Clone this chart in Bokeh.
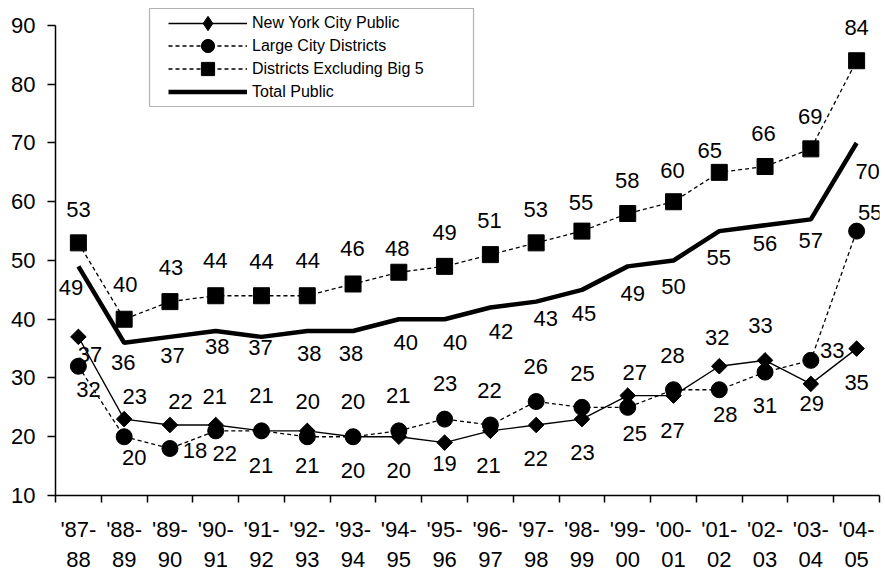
import math
from bokeh.plotting import figure
from bokeh.models import (ColumnDataSource, Range1d, FixedTicker, LabelSet, Legend,
                          LegendItem, BoxAnnotation)
from bokeh.core.properties import value
from bokeh.embed import file_html
from bokeh.resources import INLINE

# ---- data ----
categories = ["'87-88", "'88-89", "'89-90", "'90-91", "'91-92", "'92-93", "'93-94",
              "'94-95", "'95-96", "'96-97", "'97-98", "'98-99", "'99-00", "'00-01",
              "'01-02", "'02-03", "'03-04", "'04-05"]
nyc_public = [37, 23, 22, 22, 21, 21, 20, 20, 19, 21, 22, 23, 27, 27, 32, 33, 29, 35]
large_city = [32, 20, 18, 21, 21, 20, 20, 21, 23, 22, 26, 25, 25, 28, 28, 31, 33, 55]
excl_big5 = [53, 40, 43, 44, 44, 44, 46, 48, 49, 51, 53, 55, 58, 60, 65, 66, 69, 84]
total_public = [49, 36, 37, 38, 37, 38, 38, 40, 40, 42, 43, 45, 49, 50, 55, 56, 57, 70]
y_ticks = [10, 20, 30, 40, 50, 60, 70, 80, 90]
series_names = ["New York City Public", "Large City Districts",
                "Districts Excluding Big 5", "Total Public"]

# ---- label placement (pixels: dx right, dy down) ----
nyc_off = [(11.5, 18), (10.5, -23), (10.5, -23), (9, 29), (-0.5, 34.5), (0, 34.5),
           (0, 34), (0, 34), (0, 21), (-2, 34.5), (-0.5, 34), (0.5, 33), (7, -23.5),
           (-1, 35), (-2, -29), (-4.5, -35), (1, 20), (0, 33.5)]
large_off = [(10, 23.5), (10, 20.5), (25, 2), (-1, -34), (0, -35.5), (0.5, -35.5),
             (0, -35.5), (-0.5, -35.5), (0.5, -35.5), (-1, -34.5), (-0.5, -34.5),
             (0.5, -34), (7, 26.5), (-1, -34), (6, 25), (0, 33.5), (21.5, -10), (13.5, -19)]
excl_off = [(0, -33), (1, -34.5), (1, -34.5), (-0.5, -35), (0, -34), (0.5, -35),
            (-0.5, -35), (-1.5, -24), (0, -34), (-1, -34), (-0.5, -33.5), (-1, -29),
            (-0.5, -33), (-1, -31), (-9.5, -22), (-1.5, -33), (-0.5, -32.5), (0, -33.5)]
total_off = [(-7.5, 21), (-1, 19.5), (2.5, 18.5), (1.5, 16), (-1, 11), (2, 23), (-2, 23),
             (7, 23), (10.5, 23.5), (10.5, 24.5), (9.5, 17), (2, 24), (5, 27), (0, 26.5),
             (-0.5, 26), (0, 18.5), (0, 21), (11, 29)]

xs = list(range(len(categories)))
FONT = "Liberation Sans"

# layout (pixels)
W, H = 885, 574
LEFT, RIGHT, TOP, BOTTOM = 55, 6, 0, 79


def make_src(vals, offs):
    return ColumnDataSource(dict(
        x=xs, y=vals, label=[str(v) for v in vals],
        dx=[o[0] for o in offs], dy=[-o[1] for o in offs]))


src_nyc = make_src(nyc_public, nyc_off)
src_lc = make_src(large_city, large_off)
src_ex = make_src(excl_big5, excl_off)
src_tot = make_src(total_public, total_off)

p = figure(width=W, height=H, output_backend="svg", toolbar_location=None,
           x_range=Range1d(-0.5, len(categories) - 0.5), y_range=Range1d(10, 94.255),
           min_border_left=LEFT, min_border_right=RIGHT, min_border_top=TOP,
           min_border_bottom=BOTTOM)
p.outline_line_color = None
p.xgrid.visible = False
p.ygrid.visible = False
p.background_fill_color = "white"
p.border_fill_color = "white"

# y axis
p.yaxis.ticker = FixedTicker(ticks=y_ticks)
p.yaxis.bounds = (y_ticks[0], y_ticks[-1])
p.yaxis.major_tick_out = 8
p.yaxis.major_tick_in = 0
p.yaxis.minor_tick_out = 0
p.yaxis.minor_tick_in = 0
p.yaxis.axis_line_width = 1.5
p.yaxis.major_tick_line_width = 1.5
p.yaxis.major_label_standoff = 12
p.yaxis.major_label_text_font = FONT
p.yaxis.major_label_text_font_size = "22px"
p.yaxis.major_label_text_color = "black"

# x axis
p.xaxis.ticker = FixedTicker(ticks=xs, minor_ticks=[i - 0.5 for i in range(len(categories) + 1)])
p.xaxis.major_label_overrides = {i: c[:4] + "\n" + c[4:] for i, c in enumerate(categories)}
p.xaxis.major_tick_out = 0
p.xaxis.major_tick_in = 0
p.xaxis.minor_tick_out = 7
p.xaxis.minor_tick_in = 0
p.xaxis.minor_tick_line_color = "black"
p.xaxis.minor_tick_line_width = 1.5
p.xaxis.axis_line_width = 1.5
p.xaxis.major_label_standoff = 14
p.xaxis.major_label_text_font = FONT
p.xaxis.major_label_text_font_size = "22px"
p.xaxis.major_label_text_color = "black"

# series
r_nyc_l = p.line("x", "y", source=src_nyc, line_color="black", line_width=1.3)
r_nyc_m = p.scatter("x", "y", source=src_nyc, marker="square", angle=math.pi / 4,
                    size=11, fill_color="black", line_color="black")
r_lc_l = p.line("x", "y", source=src_lc, line_color="black", line_width=1.3, line_dash="4 3")
r_lc_m = p.scatter("x", "y", source=src_lc, marker="circle", size=16,
                   fill_color="black", line_color="black")
r_ex_l = p.line("x", "y", source=src_ex, line_color="black", line_width=1.3, line_dash="4 3")
r_ex_m = p.scatter("x", "y", source=src_ex, marker="square", size=16,
                   fill_color="black", line_color="black")
r_tot = p.line("x", "y", source=src_tot, line_color="black", line_width=4.5)
# key-only renderer (no drawable point) for the legend's diamond symbol,
# because legends ignore a marker's angle
r_nyc_key = p.scatter(x=[float("nan")], y=[float("nan")], marker="diamond", size=11,
                      fill_color="black", line_color="black")

for src in (src_nyc, src_lc, src_ex, src_tot):
    p.add_layout(LabelSet(x="x", y="y", text="label", source=src,
                          x_offset="dx", y_offset="dy",
                          text_font=value(FONT), text_font_size=value("22px"),
                          text_color="black", text_align="center",
                          text_baseline="middle"))

# legend frame (frame-relative screen units, y from the frame bottom)
frame_h = H - TOP - BOTTOM
box = BoxAnnotation(left=149 - LEFT, right=473 - LEFT,
                    bottom=frame_h - (106 - TOP), top=frame_h - (8 - TOP),
                    left_units="screen", right_units="screen",
                    bottom_units="screen", top_units="screen",
                    fill_color="white", fill_alpha=1,
                    line_color="black", line_width=1.2)
p.add_layout(box)

# one single-item legend per row, so rows can be closer than the glyph height
item_renderers = [[r_nyc_l, r_nyc_key], [r_lc_l, r_lc_m], [r_ex_l, r_ex_m], [r_tot]]
glyph_heights = [36, 33, 33, 33]
for k, (name, rends) in enumerate(zip(series_names, item_renderers)):
    gh = glyph_heights[k]
    row_center = 22.7 + 23 * k
    lg = Legend(items=[LegendItem(label=name, renderers=rends, index=0)],
                location=(168 - LEFT, frame_h - (row_center + gh / 2)))
    lg.border_line_color = None
    lg.background_fill_alpha = 0
    lg.padding = 0
    lg.spacing = 0
    lg.margin = 0
    lg.glyph_width = 79
    lg.glyph_height = gh
    lg.label_height = gh
    lg.label_standoff = 5
    lg.label_text_font = FONT
    lg.label_text_font_size = "16px"
    lg.label_text_color = "black"
    p.add_layout(lg, "center")

open("out.html", "w").write(file_html(p, INLINE))
